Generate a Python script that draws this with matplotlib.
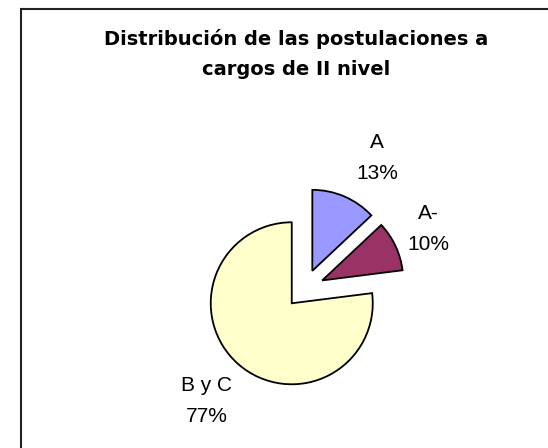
import numpy as np
import matplotlib

matplotlib.use("Agg")
import matplotlib.pyplot as plt
from matplotlib.patches import Rectangle

TITLE = "Distribución de las postulaciones a\ncargos de II nivel"
labels = ["A", "A-", "B y C"]
shares = [13, 10, 77]
colors = ["#9999FF", "#993366", "#FFFFCC"]

# pixel layout (y measured from bottom)
W, H = 548, 448
CENTER = (304.6, 159.3)
RADIUS = 81
EXPLODE = 0.24          # in units of the radius
# label distance (radii from the pie centre) and angle shift from mid-slice
LABEL_DIST = [1.845, 1.70, 1.84]
LABEL_SHIFT = [-5.6, 0.5, 0.3]

plt.rcParams["font.family"] = ["Liberation Sans", "DejaVu Sans"]

fig = plt.figure(figsize=(W / 100, H / 100), dpi=100)
ax = fig.add_axes([0, 0, 1, 1])

# chart frame (right and bottom edges are cut off in the original)
ax.add_patch(Rectangle((21, -10), W, H - 9 + 10, fill=False,
                       edgecolor="#222222", linewidth=1.5))

wedges, _ = ax.pie(shares, colors=colors, startangle=90, counterclock=False,
                   explode=[EXPLODE * RADIUS] * len(shares), center=CENTER,
                   radius=RADIUS, frame=True,
                   wedgeprops=dict(edgecolor="black", linewidth=1.3))
ax.set_xlim(0, W)
ax.set_ylim(0, H)
ax.set_aspect("equal")
ax.axis("off")

for w, lab, val, dist, shift in zip(wedges, labels, shares, LABEL_DIST, LABEL_SHIFT):
    ang = np.deg2rad((w.theta1 + w.theta2) / 2 + shift)
    x = CENTER[0] + RADIUS * dist * np.cos(ang)
    y = CENTER[1] + RADIUS * dist * np.sin(ang)
    ax.text(x, y, f"{lab}\n{val}%", ha="center", va="center",
            fontsize=15, linespacing=1.84)

ax.text(296, H - 54, TITLE, ha="center", va="center", fontsize=14,
        fontweight="bold", family="DejaVu Sans", linespacing=1.71)

fig.savefig("out.png", dpi=100)
